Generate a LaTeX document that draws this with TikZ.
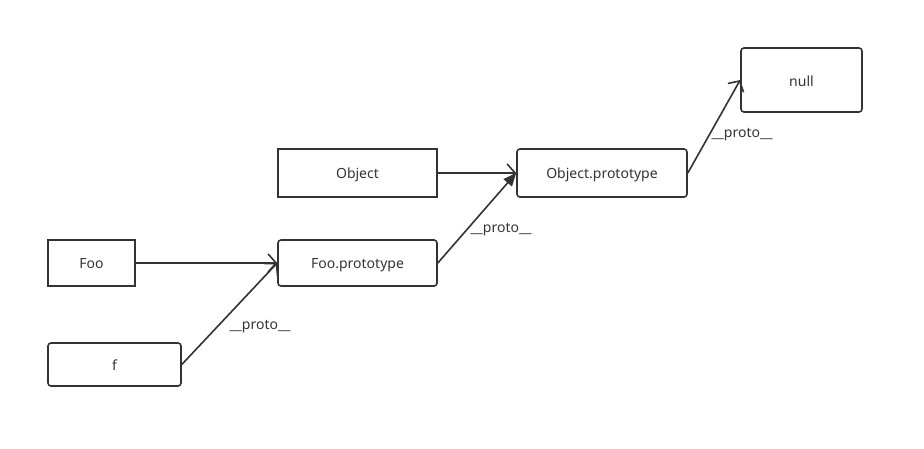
\documentclass[tikz,border=0pt]{standalone}
\usepackage{fontspec}
\setmainfont{Noto Sans}
\usetikzlibrary{arrows.meta}
\definecolor{ink}{HTML}{333333}
\begin{document}
\begin{tikzpicture}[x=1pt,y=-1pt,
  box/.style={draw=ink, line width=1.6pt, inner sep=0pt, text=ink, font=\fontsize{14}{16}\selectfont, text height=11pt, text depth=0pt},
  rbox/.style={box, rounded corners=3pt},
  conn/.style={draw=ink, line width=1.6pt, -{Straight Barb[length=8pt,width=18pt,line width=1.6pt]}},
  fconn/.style={draw=ink, line width=1.6pt, -{Triangle[length=13pt,width=11pt]}},
  lbl/.style={text=ink, font=\fontsize{14}{16}\selectfont, inner sep=0pt}]
\useasboundingbox (0,0) rectangle (924,448);
\node[rbox, minimum width=121pt, minimum height=64pt, text height=12pt] (null) at (801.5,80) {null};
\node[box, minimum width=159pt, minimum height=48pt] (obj) at (357.5,173) {Object};
\node[rbox, minimum width=170pt, minimum height=48pt] (objp) at (602,173) {Object.prototype};
\node[box, minimum width=87pt, minimum height=46pt] (foo) at (91.5,263) {Foo};
\node[rbox, minimum width=159pt, minimum height=46pt] (foop) at (357.5,263) {Foo.prototype};
\node[rbox, minimum width=133pt, minimum height=43pt] (f) at (114.5,364.5) {f};
\draw[conn] (obj.east) -- (objp.west);
\draw[fconn] (foop.east) -- (objp.west);
\draw[conn] (foo.east) -- (foop.west);
\draw[conn] (f.east) -- (foop.west);
\draw[conn] (objp.east) -- (null.west);
\node[lbl] (l1) at (501,230) {\_\_proto\_\_};
\node[lbl] (l2) at (260,327) {\_\_proto\_\_};
\node[lbl] (l3) at (742,135) {\_\_proto\_\_};
\end{tikzpicture}
\end{document}
